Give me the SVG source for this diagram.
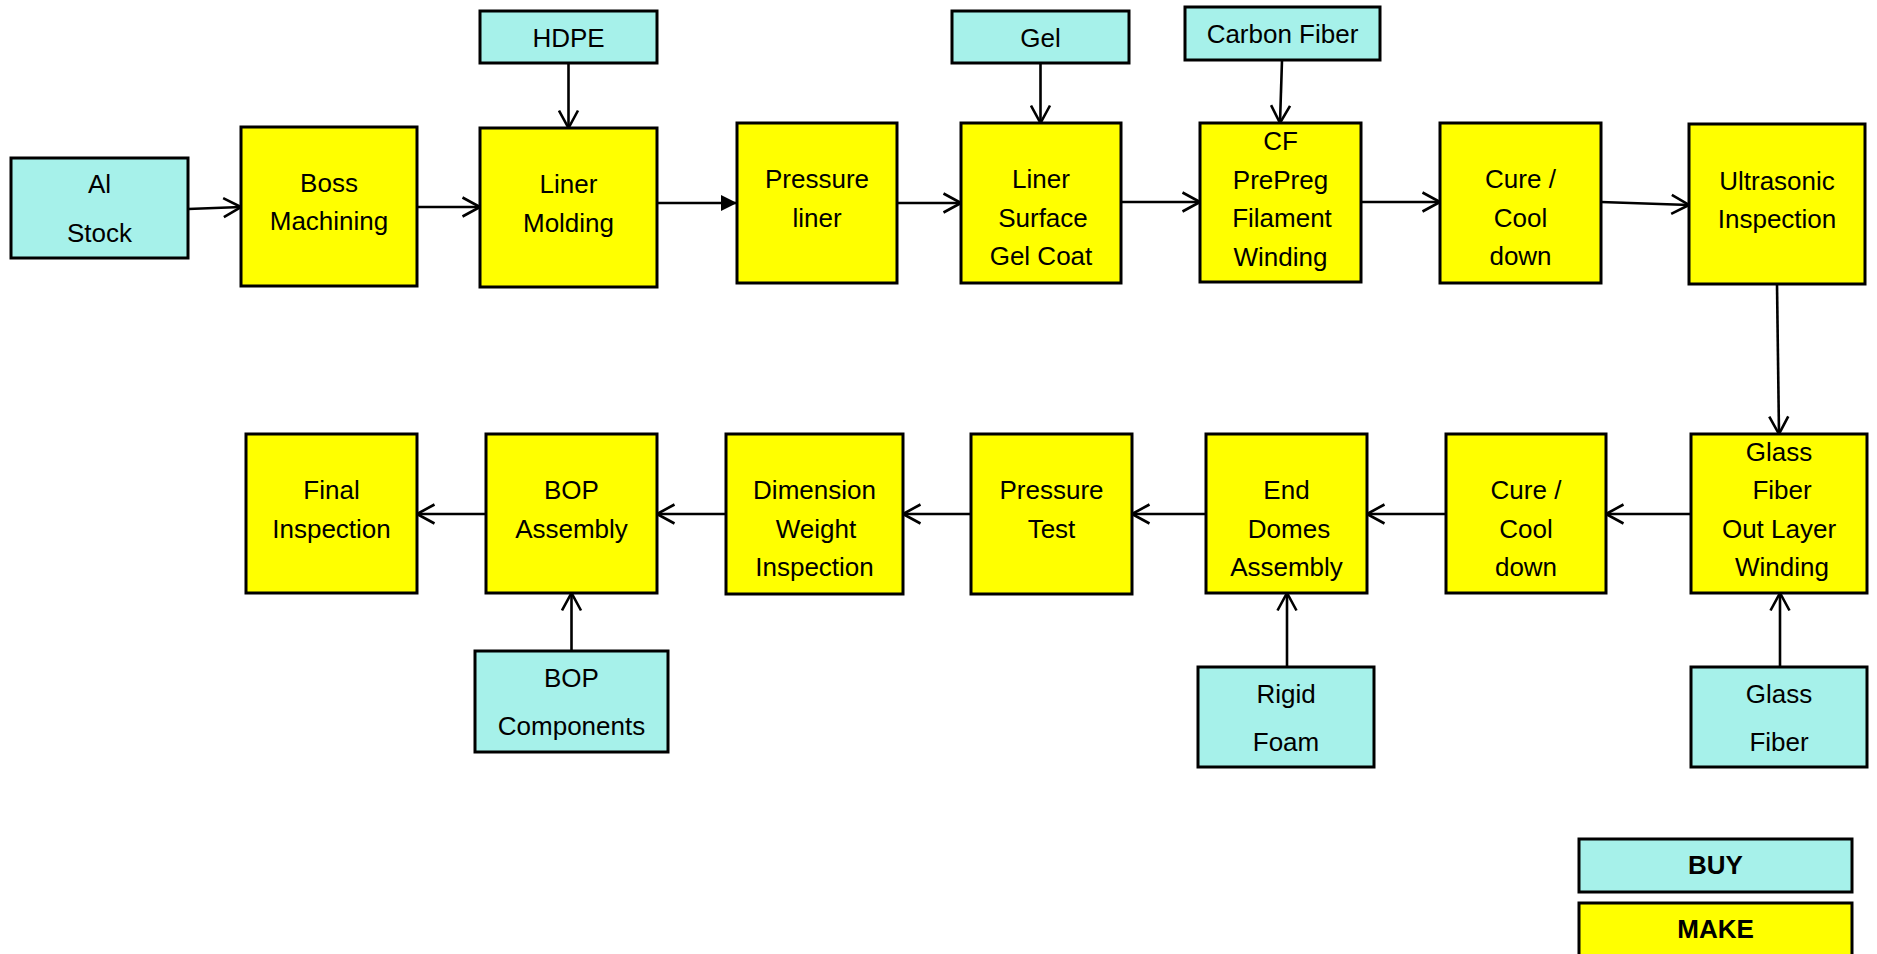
<svg xmlns="http://www.w3.org/2000/svg" width="1877" height="954" viewBox="0 0 1877 954">
<style>
.buy{fill:#A6F1EA;stroke:#000;stroke-width:3}
.make{fill:#FFFF00;stroke:#000;stroke-width:3}
text{font-family:"Liberation Sans",Arial,sans-serif;font-size:26px;fill:#000;text-anchor:middle}
.b{font-weight:bold}
.c{fill:none;stroke:#000;stroke-width:2.6}
</style>
<defs>
<marker id="open" viewBox="0 0 20 22" refX="19" refY="11" markerWidth="20" markerHeight="22" markerUnits="userSpaceOnUse" orient="auto">
<path d="M1.5,1.5 L19,11 L1.5,20.5" fill="none" stroke="#000" stroke-width="2.6"/>
</marker>
<marker id="solid" viewBox="0 0 16 16" refX="16" refY="8" markerWidth="16" markerHeight="16" markerUnits="userSpaceOnUse" orient="auto">
<path d="M0,0 L16,8 L0,16 Z" fill="#000"/>
</marker>
</defs>
<rect width="1877" height="954" fill="#fff"/>
<g id="connectors">
<path class="c" d="M188,209 L241,207" marker-end="url(#open)"/>
<path class="c" d="M417,207 L480,207" marker-end="url(#open)"/>
<path class="c" d="M657,203 L737,203" stroke-width="3.5" marker-end="url(#solid)"/>
<path class="c" d="M568.5,63 L568.5,128" marker-end="url(#open)"/>
<path class="c" d="M897,203 L961,203" marker-end="url(#open)"/>
<path class="c" d="M1040.5,63 L1040.5,123" marker-end="url(#open)"/>
<path class="c" d="M1121,202 L1200,202" marker-end="url(#open)"/>
<path class="c" d="M1282,60 L1280,123" marker-end="url(#open)"/>
<path class="c" d="M1361,202 L1440,202" marker-end="url(#open)"/>
<path class="c" d="M1601,202 L1689,205" marker-end="url(#open)"/>
<path class="c" d="M1777,284 L1779,434" marker-end="url(#open)"/>
<path class="c" d="M1691,514 L1606,514" marker-end="url(#open)"/>
<path class="c" d="M1446,514 L1367,514" marker-end="url(#open)"/>
<path class="c" d="M1206,514 L1132,514" marker-end="url(#open)"/>
<path class="c" d="M971,514 L903,514" marker-end="url(#open)"/>
<path class="c" d="M726,514 L657,514" marker-end="url(#open)"/>
<path class="c" d="M486,514 L417,514" marker-end="url(#open)"/>
<path class="c" d="M571.5,651 L571.5,593" marker-end="url(#open)"/>
<path class="c" d="M1287,667 L1287,593" marker-end="url(#open)"/>
<path class="c" d="M1780,667 L1780,593" marker-end="url(#open)"/>
</g>
<g id="al-stock"><rect class="buy" x="11" y="158" width="177" height="100"/><text x="99.5" y="193">Al</text><text x="99.5" y="242">Stock</text></g>
<g id="hdpe"><rect class="buy" x="480" y="11" width="177" height="52"/><text x="568.5" y="47">HDPE</text></g>
<g id="gel"><rect class="buy" x="952" y="11" width="177" height="52"/><text x="1040.5" y="47">Gel</text></g>
<g id="carbon-fiber"><rect class="buy" x="1185" y="7" width="195" height="53"/><text x="1282.5" y="43">Carbon Fiber</text></g>
<g id="bop-components"><rect class="buy" x="475" y="651" width="193" height="101"/><text x="571.5" y="687">BOP</text><text x="571.5" y="735">Components</text></g>
<g id="rigid-foam"><rect class="buy" x="1198" y="667" width="176" height="100"/><text x="1286" y="703">Rigid</text><text x="1286" y="751">Foam</text></g>
<g id="glass-fiber-buy"><rect class="buy" x="1691" y="667" width="176" height="100"/><text x="1779" y="703">Glass</text><text x="1779" y="751">Fiber</text></g>
<g id="boss-machining"><rect class="make" x="241" y="127" width="176" height="159"/><text x="329" y="192">Boss</text><text x="329" y="230">Machining</text></g>
<g id="liner-molding"><rect class="make" x="480" y="128" width="177" height="159"/><text x="568.5" y="193">Liner</text><text x="568.5" y="232">Molding</text></g>
<g id="pressure-liner"><rect class="make" x="737" y="123" width="160" height="160"/><text x="817" y="188">Pressure</text><text x="817" y="227">liner</text></g>
<g id="liner-surface-gel-coat"><rect class="make" x="961" y="123" width="160" height="160"/><text x="1041" y="188">Liner</text><text x="1043" y="227">Surface</text><text x="1041" y="265">Gel Coat</text></g>
<g id="cf-prepreg-filament-winding"><rect class="make" x="1200" y="123" width="161" height="159"/><text x="1280.5" y="150">CF</text><text x="1280.5" y="188.5">PrePreg</text><text x="1282" y="227">Filament</text><text x="1280.5" y="265.5">Winding</text></g>
<g id="cure-cool-down-1"><rect class="make" x="1440" y="123" width="161" height="160"/><text x="1520.5" y="188">Cure /</text><text x="1520.5" y="227">Cool</text><text x="1520.5" y="265">down</text></g>
<g id="ultrasonic-inspection"><rect class="make" x="1689" y="124" width="176" height="160"/><text x="1777" y="190">Ultrasonic</text><text x="1777" y="228">Inspection</text></g>
<g id="glass-fiber-out-layer-winding"><rect class="make" x="1691" y="434" width="176" height="159"/><text x="1779" y="461">Glass</text><text x="1782" y="499">Fiber</text><text x="1779" y="538">Out Layer</text><text x="1782" y="576">Winding</text></g>
<g id="cure-cool-down-2"><rect class="make" x="1446" y="434" width="160" height="159"/><text x="1526" y="499">Cure /</text><text x="1526" y="538">Cool</text><text x="1526" y="576">down</text></g>
<g id="end-domes-assembly"><rect class="make" x="1206" y="434" width="161" height="159"/><text x="1286.5" y="499">End</text><text x="1289" y="538">Domes</text><text x="1286.5" y="576">Assembly</text></g>
<g id="pressure-test"><rect class="make" x="971" y="434" width="161" height="160"/><text x="1051.5" y="499">Pressure</text><text x="1051.5" y="538">Test</text></g>
<g id="dimension-weight-inspection"><rect class="make" x="726" y="434" width="177" height="160"/><text x="814.5" y="499">Dimension</text><text x="816" y="538">Weight</text><text x="814.5" y="576">Inspection</text></g>
<g id="bop-assembly"><rect class="make" x="486" y="434" width="171" height="159"/><text x="571.5" y="499">BOP</text><text x="571.5" y="538">Assembly</text></g>
<g id="final-inspection"><rect class="make" x="246" y="434" width="171" height="159"/><text x="331.5" y="499">Final</text><text x="331.5" y="538">Inspection</text></g>
<g id="legend-buy"><rect class="buy" x="1579" y="839" width="273" height="53"/><text class="b" x="1715.5" y="874">BUY</text></g>
<g id="legend-make"><rect class="make" x="1579" y="903" width="273" height="60"/><text class="b" x="1715.5" y="938">MAKE</text></g>
</svg>
